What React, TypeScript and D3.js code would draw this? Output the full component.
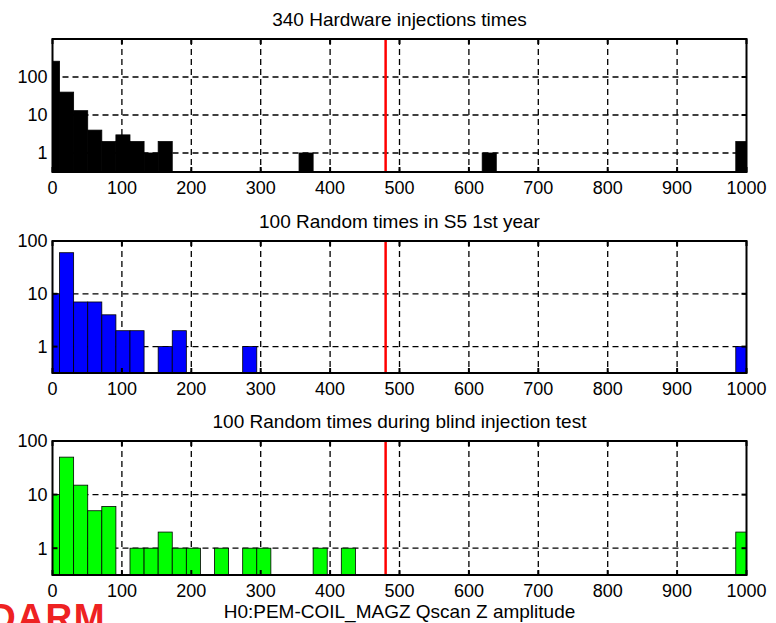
import React from 'react';
import * as d3 from 'd3';

// histogram bin width (amplitude units); bin k is centred on k * BIN_WIDTH
const BIN_WIDTH = 20.3;

const hwBins = [0, 1, 2, 3, 4, 5, 6, 7, 8, 18, 31, 49];
const hwCounts = [260, 40, 13, 4, 2, 3, 2, 1, 2, 1, 1, 2];

const s5Bins = [0, 1, 2, 3, 4, 5, 6, 8, 9, 14, 49];
const s5Counts = [10, 60, 7, 7, 4, 2, 2, 1, 2, 1, 1];

const blindBins = [0, 1, 2, 3, 4, 6, 7, 8, 9, 10, 12, 14, 15, 19, 21, 49];
const blindCounts = [10, 50, 15, 5, 6, 1, 1, 2, 1, 1, 1, 1, 1, 1, 1, 2];

const xTicks = [0, 100, 200, 300, 400, 500, 600, 700, 800, 900, 1000];
const threshold = 480;

const titles = [
  '340 Hardware injections times',
  '100 Random times in S5 1st year',
  '100 Random times during blind injection test',
];
const xLabel = 'H0:PEM-COIL_MAGZ Qscan Z amplitude';

const FONT = 'Liberation Sans, Arial, Helvetica, sans-serif';

interface PanelProps {
  top: number;
  bottom: number;
  bins: number[];
  counts: number[];
  yMax: number;
  yTicks: number[];
  fill: string;
  edge: string;
  title: string;
  id: string;
}

const LEFT = 52.5;
const RIGHT = 746.5;

const Panel: React.FC<PanelProps> = ({ top, bottom, bins, counts, yMax, yTicks, fill, edge, title, id }) => {
  const x = d3.scaleLinear().domain([0, 1000]).range([LEFT, RIGHT]);
  const y = d3.scaleLog().domain([Math.pow(10, -0.5), yMax]).range([bottom, top]);

  const bars = bins.map((b, i) => {
    const lo = Math.max(0, b * BIN_WIDTH - BIN_WIDTH / 2);
    const hi = Math.min(1000, b * BIN_WIDTH + BIN_WIDTH / 2);
    return { x0: x(lo), x1: x(hi), y: y(counts[i]) };
  });

  return (
    <g>
      <defs>
        <clipPath id={id}>
          <rect x={LEFT} y={top} width={RIGHT - LEFT} height={bottom - top} />
        </clipPath>
      </defs>
      <text x={(LEFT + RIGHT) / 2} y={top - 13} textAnchor="middle" fontSize={19} fontFamily={FONT}>
        {title}
      </text>
      {/* grid */}
      {xTicks.slice(1, -1).map((t) => (
        <line key={'gx' + t} x1={x(t)} x2={x(t)} y1={top} y2={bottom} stroke="#000" strokeWidth={1.3} strokeDasharray="6,4" />
      ))}
      {yTicks.filter((t) => t < yMax).map((t) => (
        <line key={'gy' + t} x1={LEFT} x2={RIGHT} y1={y(t)} y2={y(t)} stroke="#000" strokeWidth={1.3} strokeDasharray="6,4" />
      ))}
      <g clipPath={`url(#${id})`}>
        {bars.map((b, i) => (
          <rect key={i} x={b.x0} y={b.y} width={b.x1 - b.x0} height={bottom - b.y} fill={fill} stroke={edge} strokeWidth={0.8} />
        ))}
      </g>
      <line x1={x(threshold)} x2={x(threshold)} y1={top} y2={bottom} stroke="#ff0000" strokeWidth={2.5} />
      {/* box + ticks */}
      <rect x={LEFT} y={top} width={RIGHT - LEFT} height={bottom - top} fill="none" stroke="#000" strokeWidth={2} />
      {xTicks.map((t) => (
        <g key={'tx' + t}>
          <line x1={x(t)} x2={x(t)} y1={bottom} y2={bottom - 5} stroke="#000" strokeWidth={2} />
          <line x1={x(t)} x2={x(t)} y1={top} y2={top + 5} stroke="#000" strokeWidth={2} />
          <text x={x(t)} y={bottom + 22} textAnchor="middle" fontSize={18} fontFamily={FONT}>
            {t}
          </text>
        </g>
      ))}
      {yTicks.map((t) => (
        <g key={'ty' + t}>
          <line x1={LEFT} x2={LEFT + 5} y1={y(t)} y2={y(t)} stroke="#000" strokeWidth={2} />
          <line x1={RIGHT} x2={RIGHT - 5} y1={y(t)} y2={y(t)} stroke="#000" strokeWidth={2} />
          <text x={LEFT - 5} y={y(t)} dy="0.35em" textAnchor="end" fontSize={18} fontFamily={FONT}>
            {t}
          </text>
        </g>
      ))}
    </g>
  );
};

const App: React.FC = () => {
  return (
    <svg width={776} height={623} style={{ position: 'absolute', left: 0, top: 0, background: '#fff' }}>
      <rect width={776} height={623} fill="#fff" />
      <Panel id="c1" top={39} bottom={172} bins={hwBins} counts={hwCounts} yMax={1000} yTicks={[1, 10, 100]}
        fill="#000" edge="#000" title={titles[0]} />
      <Panel id="c2" top={241} bottom={373} bins={s5Bins} counts={s5Counts} yMax={100} yTicks={[1, 10, 100]}
        fill="#0000ff" edge="#000" title={titles[1]} />
      <Panel id="c3" top={441} bottom={575} bins={blindBins} counts={blindCounts} yMax={100} yTicks={[1, 10, 100]}
        fill="#00ff00" edge="#000" title={titles[2]} />
      <text x={(LEFT + RIGHT) / 2} y={618} textAnchor="middle" fontSize={19} fontFamily={FONT}>
        {xLabel}
      </text>
      <text x={106} y={630} textAnchor="end" fontSize={37} fontWeight="bold" letterSpacing={1.5} fill="#ee2222" fontFamily={FONT}>
        DARM
      </text>
    </svg>
  );
};

export default App;
